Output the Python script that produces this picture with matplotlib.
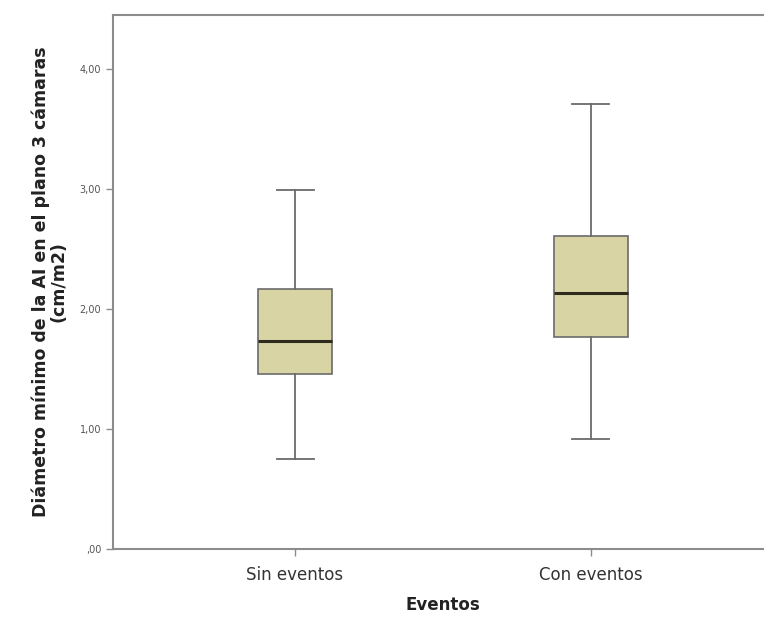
import matplotlib
matplotlib.use("Agg")
import matplotlib.pyplot as plt
from matplotlib.ticker import FuncFormatter

# Summary statistics per group (cm/m2)
groups = ["Sin eventos", "Con eventos"]
whisker_low = [0.75, 0.92]
q1 = [1.46, 1.77]
median = [1.73, 2.13]
q3 = [2.17, 2.61]
whisker_high = [2.99, 3.71]

y_ticks = [0, 1, 2, 3, 4]

BOX_FILL = "#d9d4a4"
EDGE = "#6b6b6b"
AXIS_GRAY = "#8c8c8c"


def comma_fmt(v, _):
    # SPSS style: decimal comma, no leading zero for 0
    s = ("%.2f" % v).replace(".", ",")
    return s[1:] if s.startswith("0") else s


stats = [
    {"label": g, "whislo": lo, "q1": a, "med": m, "q3": b, "whishi": hi, "fliers": []}
    for g, lo, a, m, b, hi in zip(groups, whisker_low, q1, median, q3, whisker_high)
]

fig = plt.figure(figsize=(7.64, 6.21), dpi=100)
ax = fig.add_axes([113 / 764, 72 / 621, 660 / 764, 534 / 621])

ax.bxp(
    stats,
    positions=[0, 1],
    widths=0.247,
    capwidths=0.125,
    patch_artist=True,
    showfliers=False,
    boxprops=dict(facecolor=BOX_FILL, edgecolor=EDGE, linewidth=1.2),
    medianprops=dict(color="#2e2b1f", linewidth=2.2),
    whiskerprops=dict(color=EDGE, linewidth=1.3),
    capprops=dict(color=EDGE, linewidth=1.3),
)

ax.set_xlim(-0.615, 1.615)
ax.set_ylim(0, 4.45)
ax.set_xticks([0, 1])
ax.set_xticklabels(groups, fontsize=12, color="#333333")
ax.set_yticks(y_ticks)
ax.yaxis.set_major_formatter(FuncFormatter(comma_fmt))
ax.tick_params(axis="y", labelsize=7, colors=AXIS_GRAY, labelcolor="#555555", length=5, width=1)
ax.tick_params(axis="x", colors=AXIS_GRAY, labelcolor="#333333", length=5, width=1, pad=7)

for side in ["left", "bottom", "top", "right"]:
    ax.spines[side].set_color(AXIS_GRAY)
    ax.spines[side].set_linewidth(1.5)

ax.set_xlabel("Eventos", fontsize=12, fontweight="bold", color="#222222", labelpad=9)
ax.set_ylabel(
    "Diámetro mínimo de la AI en el plano 3 cámaras\n(cm/m2)",
    fontsize=12.5, fontweight="bold", color="#222222", labelpad=9, linespacing=0.95,
)

fig.savefig("out.png", dpi=100)
